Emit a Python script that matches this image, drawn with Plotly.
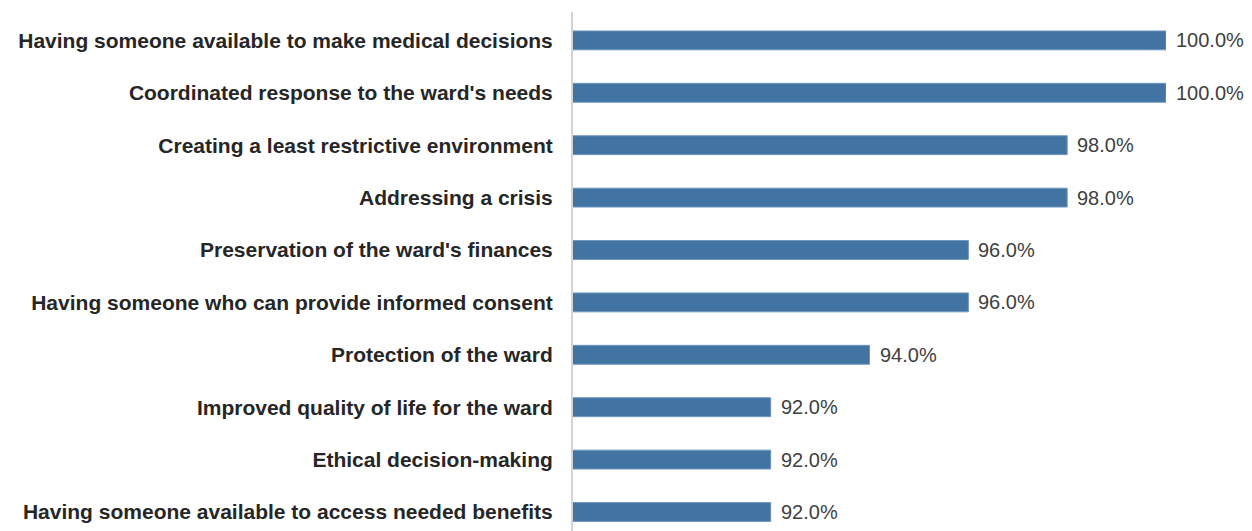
import plotly.graph_objects as go

categories = [
    "Having someone available to make medical decisions",
    "Coordinated response to the ward's needs",
    "Creating a least restrictive environment",
    "Addressing a crisis",
    "Preservation of the ward's finances",
    "Having someone who can provide informed consent",
    "Protection of the ward",
    "Improved quality of life for the ward",
    "Ethical decision-making",
    "Having someone available to access needed benefits",
]
values = [100.0, 100.0, 98.0, 98.0, 96.0, 96.0, 94.0, 92.0, 92.0, 92.0]
value_labels = [f"{v:.1f}%" for v in values]

FONT = "Liberation Sans Narrow, Arial Narrow, Liberation Sans, Arial, sans-serif"

fig = go.Figure()
fig.add_trace(go.Bar(
    x=values, y=categories, orientation="h",
    marker=dict(color="#4173A3", line=dict(color="#6E95BD", width=1)),
    hoverinfo="skip",
))

for c, v, t in zip(categories, values, value_labels):
    fig.add_annotation(x=v, y=c, text=t, showarrow=False, xanchor="left",
                       xshift=8, font=dict(family=FONT, size=20, color="#404040"))

# page body has an 8px margin, so the figure is offset by 8px
fig.update_layout(
    width=1244, height=523,
    margin=dict(l=565, r=86, t=4, b=0, autoexpand=False),
    paper_bgcolor="white", plot_bgcolor="white",
    bargap=0.64,
    showlegend=False,
    xaxis=dict(range=[88, 100], visible=False, showgrid=False, zeroline=False,
               automargin=False),
    yaxis=dict(
        type="category",
        categoryorder="array", categoryarray=categories,
        range=[9.363, -0.542],
        automargin=False,
        showline=True, linecolor="#D4D4D4", linewidth=2,
        showgrid=False, ticks="", ticklabelstandoff=14,
        tickfont=dict(family=FONT, size=21, color="#262626", weight="bold"),
    ),
)

fig.write_html("out.html")
